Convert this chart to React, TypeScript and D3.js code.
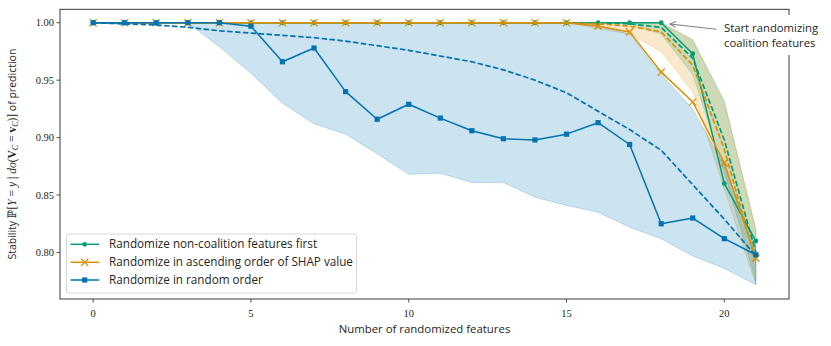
import React from "react";
import * as d3 from "d3";

const xs = d3.range(0, 22);

// Randomize non-coalition features first (green)
const greenSolid = [1, 1, 1, 1, 1, 1, 1, 1, 1, 1, 1, 1, 1, 1, 1, 1, 1, 1, 1.0, 0.973, 0.86, 0.81];
const greenMean = [1, 1, 1, 1, 1, 1, 1, 1, 1, 1, 1, 1, 1, 1, 1, 1, 1, 0.999, 0.996, 0.969, 0.898, 0.8];
const greenUpper = [1, 1, 1, 1, 1, 1, 1, 1, 1, 1, 1, 1, 1, 1, 1, 1, 1, 1, 1, 0.985, 0.932, 0.82];
const greenLower = [1, 1, 1, 1, 1, 1, 1, 1, 1, 1, 1, 1, 1, 1, 1, 1, 1, 1, 0.99, 0.955, 0.87, 0.775];

// Randomize in ascending order of SHAP value (orange)
const orangeSolid = [1, 1, 1, 1, 1, 1, 1, 1, 1, 1, 1, 1, 1, 1, 1, 1, 0.997, 0.992, 0.957, 0.931, 0.878, 0.795];
const orangeMean = [1, 1, 1, 1, 1, 1, 1, 1, 1, 1, 1, 1, 1, 1, 1, 1, 0.999, 0.997, 0.992, 0.963, 0.89, 0.792];
const orangeUpper = [1, 1, 1, 1, 1, 1, 1, 1, 1, 1, 1, 1, 1, 1, 1, 1, 1, 1, 1, 0.985, 0.93, 0.82];
const orangeLower = [1, 1, 1, 1, 1, 1, 1, 1, 1, 1, 1, 1, 1, 1, 1, 1, 0.995, 0.99, 0.975, 0.94, 0.855, 0.772];

// Randomize in random order (blue)
const blueSolid = [1, 1, 1, 1, 1, 0.997, 0.966, 0.978, 0.94, 0.916, 0.929, 0.917, 0.906, 0.899, 0.898, 0.903, 0.913, 0.894, 0.825, 0.83, 0.812, 0.798];
const blueMean = [1, 0.999, 0.998, 0.996, 0.993, 0.991, 0.989, 0.987, 0.984, 0.98, 0.976, 0.971, 0.966, 0.959, 0.95, 0.939, 0.923, 0.907, 0.889, 0.859, 0.829, 0.797];
const blueUpper = [1, 1, 1, 1, 1, 1, 1, 1, 1, 1, 1, 1, 1, 1, 1, 1, 0.998, 0.99, 0.955, 0.925, 0.875, 0.805];
const blueLower = [1, 1, 1, 1, 0.979, 0.956, 0.93, 0.912, 0.903, 0.886, 0.868, 0.869, 0.861, 0.861, 0.848, 0.841, 0.835, 0.822, 0.812, 0.797, 0.786, 0.772];

const xTicks = [0, 5, 10, 15, 20];
const yTicks = [0.8, 0.85, 0.9, 0.95, 1.0];
const legendLabels = [
  "Randomize non-coalition features first",
  "Randomize in ascending order of SHAP value",
  "Randomize in random order",
];

const GREEN = "#029E73";
const ORANGE = "#DE8F05";
const BLUE = "#0173B2";

const W = 831;
const H = 346;
const L = 60, R = 789, T = 9.3, B = 299;

const SANS = "'Open Sans', Lato, sans-serif";
const SERIF = "'Liberation Serif', 'DejaVu Serif', serif";

function Marker({ kind, x, y, color }: { kind: string; x: number; y: number; color: string }) {
  if (kind === "o") return <circle cx={x} cy={y} r={2.4} fill={color} />;
  if (kind === "s") return <rect x={x - 2.6} y={y - 2.6} width={5.2} height={5.2} fill={color} />;
  const s = 3.6;
  return (
    <g stroke={color} strokeWidth={1.3}>
      <line x1={x - s} y1={y - s} x2={x + s} y2={y + s} />
      <line x1={x - s} y1={y + s} x2={x + s} y2={y - s} />
    </g>
  );
}

export default function App() {
  const x = d3.scaleLinear().domain([-1.05, 22.05]).range([L, R]);
  const y = d3.scaleLinear().domain([0.7595, 1.0117]).range([B, T]);
  const line = (vals: number[]) =>
    d3.line<number>().x((_, i) => x(xs[i])).y((v) => y(v))(vals) || "";
  const area = (lo: number[], hi: number[]) =>
    d3
      .area<number>()
      .x((_, i) => x(xs[i]))
      .y0((_, i) => y(lo[i]))
      .y1((_, i) => y(hi[i]))(lo) || "";

  const series = [
    { color: GREEN, solid: greenSolid, mean: greenMean, lo: greenLower, hi: greenUpper, marker: "o" },
    { color: ORANGE, solid: orangeSolid, mean: orangeMean, lo: orangeLower, hi: orangeUpper, marker: "x" },
    { color: BLUE, solid: blueSolid, mean: blueMean, lo: blueLower, hi: blueUpper, marker: "s" },
  ];

  const legX = 66.5, legY = 234, legW = 290, legH = 59;
  const rowY = [244.3, 262.3, 280];

  return (
    <svg width={W} height={H} style={{ display: "block", position: "absolute", left: 0, top: 0 }}>
      <rect width={W} height={H} fill="white" />
      <defs>
        <clipPath id="plotclip">
          <rect x={L} y={T} width={R - L} height={B - T} />
        </clipPath>
      </defs>
      <g clipPath="url(#plotclip)">
        {series.map((s, k) => (
          <path key={"b" + k} d={area(s.lo, s.hi)} fill={s.color} fillOpacity={0.2} stroke={s.color} strokeOpacity={0.2} strokeWidth={1} />
        ))}
        {series.map((s, k) => (
          <g key={"l" + k}>
            <path d={line(s.solid)} fill="none" stroke={s.color} strokeWidth={1.5} strokeLinejoin="round" />
            {s.solid.map((v, i) => (
              <Marker key={i} kind={s.marker} x={x(xs[i])} y={y(v)} color={s.color} />
            ))}
            <path d={line(s.mean)} fill="none" stroke={s.color} strokeWidth={1.7} strokeDasharray="5.5,2.4" />
          </g>
        ))}
      </g>
      {/* frame */}
      <rect x={L} y={T} width={R - L} height={B - T} fill="none" stroke="#262626" strokeWidth={0.9} />
      {/* x ticks */}
      {xTicks.map((t) => (
        <g key={"xt" + t}>
          <line x1={x(t)} x2={x(t)} y1={B} y2={B + 3.5} stroke="#262626" strokeWidth={0.8} />
          <text x={x(t)} y={B + 18} textAnchor="middle" fontFamily={SERIF} fontSize={10.5} fill="#262626">
            {t}
          </text>
        </g>
      ))}
      {yTicks.map((t) => (
        <g key={"yt" + t}>
          <line x1={L - 3.5} x2={L} y1={y(t)} y2={y(t)} stroke="#262626" strokeWidth={0.8} />
          <text x={L - 6} y={y(t) + 3.6} textAnchor="end" fontFamily={SERIF} fontSize={10.5} fill="#262626">
            {t.toFixed(2)}
          </text>
        </g>
      ))}
      <text x={(L + R) / 2} y={333} textAnchor="middle" fontFamily={SANS} fontSize={11.4} fill="#262626">
        Number of randomized features
      </text>
      <text transform={`translate(16,${(T + B) / 2}) rotate(-90)`} textAnchor="middle" fontSize={10.5} fill="#262626" fontFamily={SANS}>
        <tspan>Stability </tspan>
        <tspan fontFamily={SERIF} fontSize={11.5}>ℙ[</tspan>
        <tspan fontFamily={SERIF} fontSize={11.5} fontStyle="italic">Y</tspan>
        <tspan fontFamily={SERIF} fontSize={11.5}> = </tspan>
        <tspan fontFamily={SERIF} fontSize={11.5} fontStyle="italic">y</tspan>
        <tspan fontFamily={SERIF} fontSize={11.5}> | </tspan>
        <tspan fontFamily={SERIF} fontSize={11.5} fontStyle="italic">do</tspan>
        <tspan fontFamily={SERIF} fontSize={11.5}>(</tspan>
        <tspan fontFamily={SERIF} fontSize={11.5} fontWeight="bold">V</tspan>
        <tspan fontFamily={SERIF} fontStyle="italic" fontSize={8} dy={2}>C</tspan>
        <tspan fontFamily={SERIF} fontSize={11.5} dy={-2}> = </tspan>
        <tspan fontFamily={SERIF} fontSize={11.5} fontWeight="bold">v</tspan>
        <tspan fontFamily={SERIF} fontStyle="italic" fontSize={8} dy={2}>C</tspan>
        <tspan fontFamily={SERIF} fontSize={11.5} dy={-2}>)]</tspan>
        <tspan> of prediction</tspan>
      </text>
      {/* legend */}
      <rect x={legX} y={legY} width={legW} height={legH} rx={2.5} fill="white" fillOpacity={0.8} stroke="#cccccc" strokeWidth={0.8} />
      {series.map((s, k) => (
        <g key={"lg" + k}>
          <line x1={70.5} x2={99} y1={rowY[k]} y2={rowY[k]} stroke={s.color} strokeWidth={1.5} />
          <Marker kind={s.marker} x={84.7} y={rowY[k]} color={s.color} />
          <text x={109} y={rowY[k] + 4} fontFamily={SANS} fontSize={11.7} fill="#262626">
            {legendLabels[k]}
          </text>
        </g>
      ))}
      {/* annotation */}
      <rect x={719} y={15} width={110} height={40} fill="white" />
      <line x1={716.5} y1={29.3} x2={670} y2={24} stroke="#808080" strokeWidth={1.1} />
      <path d="M676.2,21.4 L670,24 L675.6,27.4" fill="none" stroke="#808080" strokeWidth={1.1} />
      <text x={724} y={32} fontFamily={SANS} fontSize={11.3} fill="#262626">Start randomizing</text>
      <text x={724} y={46.6} fontFamily={SANS} fontSize={11.3} fill="#262626">coalition features</text>
    </svg>
  );
}
